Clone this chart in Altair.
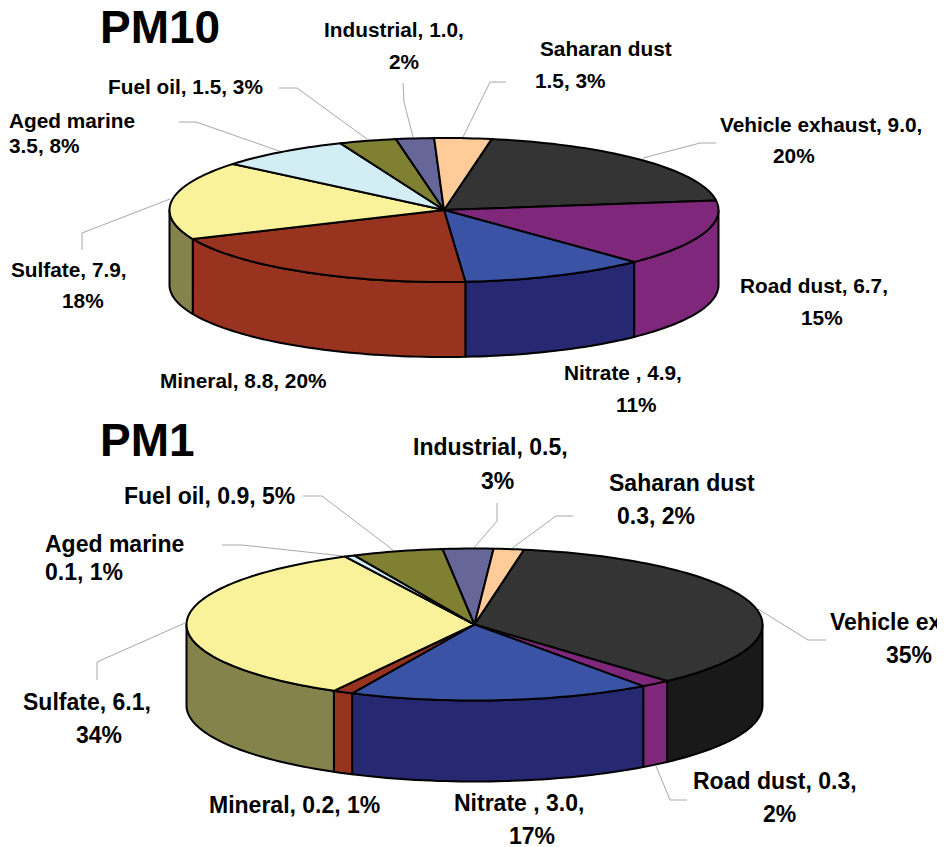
import numpy as np
import pandas as pd
import altair as alt

# Source contributions in the order the slices run clockwise
SOURCES = ["Vehicle exhaust", "Road dust", "Nitrate", "Mineral", "Sulfate",
           "Aged marine", "Fuel oil", "Industrial", "Saharan dust"]
PM10_VALUES = [9.0, 6.7, 4.9, 8.8, 7.9, 3.5, 1.5, 1.0, 1.5]
PM1_VALUES = [6.3, 0.3, 3.0, 0.2, 6.1, 0.1, 0.9, 0.5, 0.3]

TOP_COLORS = ["#333433", "#7F287B", "#3A53A4", "#97331F", "#F9F29A",
              "#D2EDF4", "#808033", "#666699", "#FFCC99"]
SIDE_COLORS = ["#191919", "#7F287B", "#262872", "#97331F", "#83834B",
               "#A0B8BE", "#66661F", "#4D4D80", "#CCA070"]

# Ellipse geometry of each pie: centre, radii, wall depth, first slice angle
PM10_PIE = dict(cx=444, cy=210, rx=274.5, ry=72, depth=75, start=10.0)
PM1_PIE = dict(cx=474.5, cy=624.5, rx=288, ry=76, depth=81, start=9.9)

# Text lines: string, left edge, baseline
PM10_TEXT = [
    ("Industrial, 1.0,", 324, 37), ("2%", 389, 69),
    ("Saharan dust", 540, 56), ("1.5, 3%", 535, 88),
    ("Vehicle exhaust, 9.0,", 720, 132), ("20%", 773, 163),
    ("Road dust, 6.7,", 740, 293), ("15%", 801, 325),
    ("Nitrate , 4.9,", 564, 380), ("11%", 616, 412),
    ("Mineral, 8.8, 20%", 160, 388),
    ("Sulfate, 7.9,", 11, 277), ("18%", 62, 308),
    ("Aged marine", 9, 128), ("3.5, 8%", 9, 153),
    ("Fuel oil, 1.5, 3%", 108, 94),
]
PM1_TEXT = [
    ("Industrial, 0.5,", 413, 455), ("3%", 481, 489),
    ("Saharan dust", 609, 491), ("0.3, 2%", 617, 524),
    ("Vehicle exhaust, 6.3,", 830, 630), ("35%", 886, 663),
    ("Road dust, 0.3,", 693, 789), ("2%", 763, 822),
    ("Nitrate , 3.0,", 454, 811), ("17%", 509, 844),
    ("Mineral, 0.2, 1%", 209, 813),
    ("Sulfate, 6.1,", 23, 710), ("34%", 76, 743),
    ("Aged marine", 45, 552), ("0.1, 1%", 45, 580),
    ("Fuel oil, 0.9, 5%", 124, 504),
]
TITLES = [("PM10", 100, 43), ("PM1", 100, 456)]

# Thin callout lines from the labels to the pie edge
LEADERS = [
    [(403, 83), (404, 102), (413, 137)],
    [(506, 82), (490, 82), (463, 137)],
    [(716, 143), (700, 143), (643, 158)],
    [(279, 88), (297, 88), (367, 139)],
    [(179, 122), (196, 122), (282, 152)],
    [(82, 250), (82, 233), (170, 199)],
    [(497, 503), (497, 521), (473, 549)],
    [(573, 516), (556, 516), (511, 549)],
    [(826, 640), (808, 640), (758, 609)],
    [(687, 800), (670, 800), (656, 766)],
    [(303, 496), (322, 496), (393, 550)],
    [(222, 545), (242, 545), (343, 556)],
    [(97, 680), (97, 662), (185, 623)],
]


def rim(pie, a0, a1, drop=0.0):
    """Points along the ellipse rim between two angles, clockwise from north."""
    n = max(2, int(abs(a1 - a0) / 1.5) + 2)
    t = np.radians(np.linspace(a0, a1, n))
    return list(zip(pie["cx"] + pie["rx"] * np.sin(t),
                    pie["cy"] - pie["ry"] * np.cos(t) + drop))


def pie_shapes(name, values, pie):
    """Wall polygons first, then the top slices so they paint over the walls."""
    edges = pie["start"] + np.concatenate([[0], np.cumsum(values)]) / np.sum(values) * 360
    walls, tops = [], []
    for i, source in enumerate(SOURCES):
        a0, a1 = edges[i], edges[i + 1]
        lo, hi = max(a0, 90), min(a1, 270)
        if lo < hi:
            walls.append((f"{name}-{source}-wall", SIDE_COLORS[i],
                          rim(pie, lo, hi) + rim(pie, hi, lo, pie["depth"])))
        tops.append((f"{name}-{source}-top", TOP_COLORS[i],
                     [(pie["cx"], pie["cy"])] + rim(pie, a0, a1)))
    return walls + tops


rows = []
shapes = pie_shapes("PM10", PM10_VALUES, PM10_PIE) + pie_shapes("PM1", PM1_VALUES, PM1_PIE)
for order, (shape, color, pts) in enumerate(shapes):
    closed = pts + [pts[0]]
    for k, (x, y) in enumerate(closed):
        rows.append(dict(shape=f"{order:03d}-{shape}", color=color, k=k, x=float(x), y=float(y)))
polygons = pd.DataFrame(rows)

leaders = pd.DataFrame([dict(leader=i, k=k, x=p[0], y=p[1])
                        for i, line in enumerate(LEADERS) for k, p in enumerate(line)])

texts = pd.DataFrame(
    [dict(text=t, x=x, y=y, size=20.8) for t, x, y in PM10_TEXT]
    + [dict(text=t, x=x, y=y, size=23) for t, x, y in PM1_TEXT]
    + [dict(text=t, x=x, y=y, size=46) for t, x, y in TITLES]
)

WIDTH, HEIGHT = 937, 847
x_enc = alt.X("x:Q", scale=alt.Scale(domain=[0, WIDTH], nice=False, zero=False), axis=None)
y_enc = alt.Y("y:Q", scale=alt.Scale(domain=[0, HEIGHT], reverse=True, nice=False, zero=False), axis=None)

leader_layer = alt.Chart(leaders).mark_line(color="#a8a8a8", strokeWidth=1).encode(
    x=x_enc, y=y_enc, detail="leader:N", order="k:Q"
)

slice_layer = alt.Chart(polygons).mark_line(
    stroke="#000000", strokeWidth=2, strokeJoin="round"
).encode(
    x=x_enc, y=y_enc,
    fill=alt.Fill("color:N", scale=None),
    detail="shape:N",
    order="k:Q",
)

text_layer = alt.Chart(texts).mark_text(
    font="Liberation Sans", fontWeight="bold", align="left", baseline="alphabetic",
    color="#000000", clip=True
).encode(
    x=x_enc, y=y_enc,
    text="text:N",
    size=alt.Size("size:Q", scale=None),
)

chart = alt.layer(leader_layer, slice_layer, text_layer).properties(
    width=WIDTH, height=HEIGHT, padding=0,
    autosize=alt.AutoSizeParams(type="none"),
    background="#ffffff",
).configure_view(stroke=None)

chart.save("out.html", embed_options={"renderer": "svg", "actions": False})
